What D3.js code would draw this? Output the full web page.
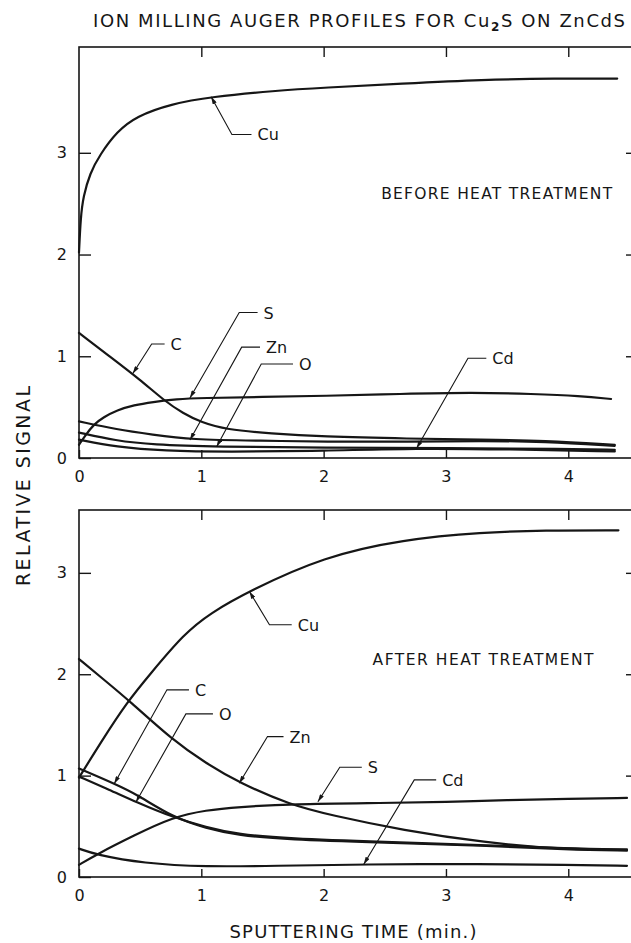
<!DOCTYPE html>
<html>
<head>
<meta charset="utf-8">
<script src="https://cdn.jsdelivr.net/npm/d3@7/dist/d3.min.js"></script>
<style>
  body { margin: 0; background: #fff; }
  svg { display: block; font-family: "DejaVu Sans", sans-serif; }
</style>
</head>
<body>
<svg id="chart" width="631" height="943"></svg>
<script>
// tick values
const timeTicks = [0, 1, 2, 3, 4];
const signalTicks = [0, 1, 2, 3];

// before heat treatment, [time (min), relative signal]
const beforeCu = [[0, 2.02], [0.014, 2.37], [0.035, 2.57], [0.09, 2.8], [0.17, 2.98], [0.31, 3.21], [0.47, 3.36], [0.75, 3.48], [1.08, 3.55], [1.6, 3.61], [2, 3.64], [2.64, 3.68], [3.3, 3.72], [3.9, 3.73], [4.4, 3.73]];
const beforeC = [[0, 1.23], [0.25, 1.0], [0.5, 0.77], [0.7, 0.56], [0.85, 0.44], [1, 0.35], [1.2, 0.28], [1.57, 0.24], [1.98, 0.21], [2.7, 0.19], [3.3, 0.18], [3.8, 0.17], [4.38, 0.13]];
const beforeS = [[0, 0.13], [0.05, 0.22], [0.12, 0.33], [0.2, 0.4], [0.31, 0.47], [0.45, 0.52], [0.6, 0.55], [0.8, 0.58], [1, 0.59], [1.5, 0.6], [2, 0.61], [2.63, 0.63], [3.22, 0.645], [3.71, 0.63], [4.1, 0.61], [4.35, 0.58]];
const beforeZn = [[0, 0.36], [0.31, 0.28], [0.6, 0.23], [0.91, 0.18], [1.5, 0.17], [2, 0.16], [2.7, 0.16], [3.3, 0.17], [3.8, 0.16], [4.38, 0.12]];
const beforeO = [[0, 0.25], [0.3, 0.17], [0.6, 0.13], [1.12, 0.11], [2, 0.1], [3, 0.1], [4, 0.09], [4.38, 0.08]];
const beforeCd = [[0, 0.18], [0.3, 0.11], [0.7, 0.07], [1.2, 0.06], [2, 0.07], [2.76, 0.095], [3.5, 0.085], [4.38, 0.065]];

// after heat treatment
const afterCu = [[0, 0.98], [0.19, 1.35], [0.39, 1.72], [0.58, 2.0], [0.86, 2.4], [1.07, 2.6], [1.39, 2.82], [2, 3.16], [2.65, 3.33], [3.3, 3.4], [3.8, 3.42], [4.41, 3.42]];
const afterZn = [[0, 2.15], [0.2, 1.95], [0.41, 1.74], [0.765, 1.35], [1.04, 1.12], [1.31, 0.93], [1.73, 0.71], [2.06, 0.61], [2.65, 0.46], [3.31, 0.34], [3.97, 0.27], [4.48, 0.27]];
const afterC = [[0, 1.07], [0.29, 0.92], [0.48, 0.81], [0.765, 0.59], [1.04, 0.48], [1.3, 0.41], [1.7, 0.37], [2.5, 0.34], [3.3, 0.31], [4, 0.27], [4.48, 0.26]];
const afterO = [[0, 0.99], [0.25, 0.86], [0.466, 0.74], [0.765, 0.59], [1.04, 0.49], [1.3, 0.42], [1.7, 0.38], [2.5, 0.345], [3.3, 0.315], [4, 0.28], [4.48, 0.27]];
const afterS = [[0, 0.12], [0.14, 0.22], [0.45, 0.41], [0.765, 0.59], [1.04, 0.66], [1.3, 0.69], [1.73, 0.72], [2.5, 0.73], [3, 0.74], [3.5, 0.76], [4, 0.77], [4.48, 0.78]];
const afterCd = [[0, 0.28], [0.14, 0.22], [0.52, 0.135], [1.04, 0.1], [1.6, 0.11], [2.33, 0.125], [3.3, 0.13], [4, 0.12], [4.48, 0.11]];

var svg = d3.select("#chart");
var ink = "#161616";

// x scale is shared, frame runs off the right edge like the scan
var x = d3.scaleLinear().domain([0, 4.57]).range([79, 638]);

var panels = [
  {
    y: d3.scaleLinear().domain([0, 4.04]).range([458, 47]),
    series: [beforeCu, beforeC, beforeS, beforeZn, beforeO, beforeCd],
    note: { text: "BEFORE HEAT TREATMENT", t: 2.47, v: 2.55, len: 231 },
    // tip, elbow, end of the flat part (time)
    labels: [
      { name: "Cu", tip: [1.08, 3.55], elbow: [1.25, 3.18], end: 1.41 },
      { name: "C", tip: [0.44, 0.83], elbow: [0.594, 1.12], end: 0.70 },
      { name: "S", tip: [0.907, 0.59], elbow: [1.31, 1.43], end: 1.46 },
      { name: "Zn", tip: [0.907, 0.177], elbow: [1.33, 1.09], end: 1.48 },
      { name: "O", tip: [1.125, 0.111], elbow: [1.49, 0.924], end: 1.75 },
      { name: "Cd", tip: [2.76, 0.095], elbow: [3.18, 0.98], end: 3.33 }
    ]
  },
  {
    y: d3.scaleLinear().domain([0, 3.62]).range([877, 510]),
    series: [afterCu, afterZn, afterC, afterO, afterS, afterCd],
    note: { text: "AFTER HEAT TREATMENT", t: 2.4, v: 2.09, len: 221 },
    labels: [
      { name: "Cu", tip: [1.393, 2.816], elbow: [1.557, 2.488], end: 1.739 },
      { name: "C", tip: [0.288, 0.92], elbow: [0.719, 1.846], end: 0.899 },
      { name: "O", tip: [0.466, 0.74], elbow: [0.874, 1.609], end: 1.095 },
      { name: "Zn", tip: [1.31, 0.925], elbow: [1.541, 1.385], end: 1.672 },
      { name: "S", tip: [1.953, 0.743], elbow: [2.132, 1.083], end: 2.312 },
      { name: "Cd", tip: [2.328, 0.125], elbow: [2.741, 0.958], end: 2.92 }
    ]
  }
];

// arrow head for the label leaders
svg.append("defs")
  .append("marker")
  .attr("id", "arrow")
  .attr("viewBox", "0 0 10 6")
  .attr("refX", 10)
  .attr("refY", 3)
  .attr("markerUnits", "userSpaceOnUse")
  .attr("markerWidth", 8)
  .attr("markerHeight", 4.5)
  .attr("orient", "auto-start-reverse")
  .append("path")
  .attr("d", "M0,0 L10,3 L0,6 z")
  .attr("fill", ink);

// title
var title = svg.append("text")
  .attr("x", 93)
  .attr("y", 27)
  .attr("textLength", 532)
  .attr("lengthAdjust", "spacing")
  .style("font-size", "18px")
  .attr("fill", ink);
title.append("tspan").text("ION MILLING AUGER PROFILES FOR Cu");
title.append("tspan").attr("dy", 4).style("font-size", "12px").style("font-weight", "bold").text("2");
title.append("tspan").attr("dy", -4).text("S ON ZnCdS");

panels.forEach(function (p) {
  var y = p.y;
  var g = svg.append("g");

  // frame
  g.append("rect")
    .attr("x", x(0))
    .attr("y", y.range()[1])
    .attr("width", x.range()[1] - x(0))
    .attr("height", y(0) - y.range()[1])
    .attr("fill", "none")
    .attr("stroke", ink)
    .attr("stroke-width", 1.6);

  // left axis with inward ticks
  var left = g.append("g")
    .attr("transform", "translate(" + x(0) + ",0)")
    .call(d3.axisLeft(y).tickValues(signalTicks).tickSize(-12).tickPadding(12).tickFormat(d3.format("d")));
  // right axis, ticks only
  var right = g.append("g")
    .attr("transform", "translate(" + x.range()[1] + ",0)")
    .call(d3.axisRight(y).tickValues(signalTicks.slice(1)).tickSize(-12).tickFormat(""));
  // top axis, ticks only
  var top = g.append("g")
    .attr("transform", "translate(0," + y.range()[1] + ")")
    .call(d3.axisTop(x).tickValues(timeTicks.slice(1)).tickSize(-10).tickFormat(""));
  // bottom axis
  var bottom = g.append("g")
    .attr("transform", "translate(0," + y(0) + ")")
    .call(d3.axisBottom(x).tickValues(timeTicks).tickSize(-8).tickPadding(13).tickFormat(d3.format("d")));

  [left, right, top, bottom].forEach(function (a) {
    a.select(".domain").remove();
    a.selectAll("line").attr("stroke", ink).attr("stroke-width", 1.4);
    a.selectAll("text")
      .attr("fill", ink)
      .style("font-family", "DejaVu Sans, sans-serif")
      .style("font-size", "16px");
  });

  // curves
  var line = d3.line()
    .x((d) => x(d[0]))
    .y((d) => y(d[1]))
    .curve(d3.curveBasis);

  g.append("g")
    .selectAll("path")
    .data(p.series)
    .join("path")
    .attr("d", line)
    .attr("fill", "none")
    .attr("stroke", ink)
    .attr("stroke-width", 2.2)
    .attr("stroke-linejoin", "round")
    .attr("stroke-linecap", "round");

  // leaders + element names
  var lab = g.append("g")
    .selectAll("g")
    .data(p.labels)
    .join("g");

  lab.append("path")
    .attr("d", (d) =>
      "M" + x(d.tip[0]) + "," + y(d.tip[1]) +
      "L" + x(d.elbow[0]) + "," + y(d.elbow[1]) +
      "L" + x(d.end) + "," + y(d.elbow[1]))
    .attr("fill", "none")
    .attr("stroke", ink)
    .attr("stroke-width", 1.1)
    .attr("marker-start", "url(#arrow)");

  lab.append("text")
    .attr("x", (d) => x(d.end) + 6)
    .attr("y", (d) => y(d.elbow[1]) + 6)
    .style("font-size", "16px")
    .attr("fill", ink)
    .text((d) => d.name);

  // heat treatment note
  g.append("text")
    .attr("x", x(p.note.t))
    .attr("y", y(p.note.v))
    .attr("textLength", p.note.len)
    .attr("lengthAdjust", "spacing")
    .style("font-size", "15.5px")
    .attr("fill", ink)
    .text(p.note.text);
});

// axis titles
svg.append("text")
  .attr("x", 353)
  .attr("y", 938)
  .attr("text-anchor", "middle")
  .attr("textLength", 247)
  .attr("lengthAdjust", "spacing")
  .style("font-size", "18px")
  .attr("fill", ink)
  .text("SPUTTERING TIME (min.)");

svg.append("text")
  .attr("transform", "translate(30,486) rotate(-90)")
  .attr("text-anchor", "middle")
  .attr("textLength", 200)
  .attr("lengthAdjust", "spacing")
  .style("font-size", "19px")
  .attr("fill", ink)
  .text("RELATIVE  SIGNAL");
</script>
</body>
</html>
